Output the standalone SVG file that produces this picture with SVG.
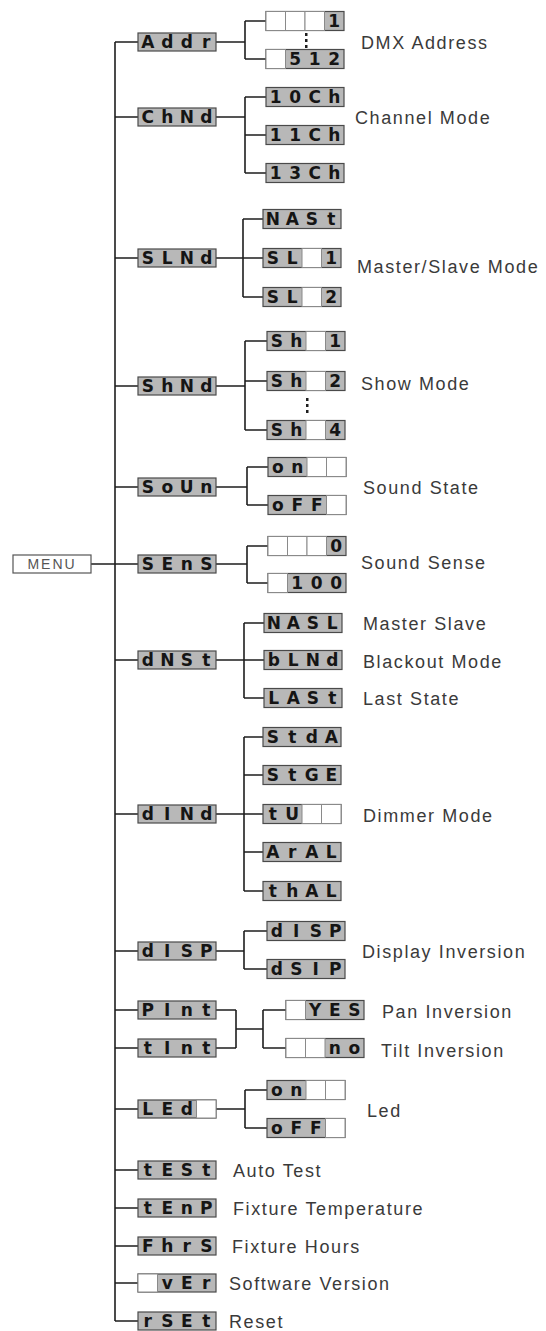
<svg xmlns="http://www.w3.org/2000/svg" width="546" height="1331" viewBox="0 0 546 1331">
<style>
.ln{stroke:#1e1e1e;stroke-width:1.6;fill:none}
.lcd{fill:#b8b8b8;stroke:#4a4a4a;stroke-width:1.2}
.blank{fill:#fff;stroke:#8a8a8a;stroke-width:1}
.seg{font-family:"DejaVu Sans",sans-serif;font-weight:bold;font-size:17px;fill:#151515;text-anchor:middle}
.lbl{font-family:"Liberation Sans",Arial,sans-serif;font-size:18px;fill:#3a3a3a;letter-spacing:1.6px}
.menu{font-family:"Liberation Sans",Arial,sans-serif;font-size:14px;fill:#555;letter-spacing:2px;text-anchor:middle}
.dot{fill:#1e1e1e}
</style>
<rect width="546" height="1331" fill="#fff"/>
<g id="connectors">
<path class="ln" d="M91 564H138M115 42V1321"/>
<path class="ln" d="M115 42H138M115 117H138M115 258H138M115 386H138M115 487H138M115 660H138M115 814H138M115 951H138M115 1010H138M115 1048H138M115 1109H138M115 1170H138M115 1208H138M115 1246H138M115 1283H138M115 1321H138"/>
<path class="ln" d="M216 42H245M245 21V59M245 21H266M245 59H266"/>
<path class="ln" d="M216 117H245M245 97V173M245 97H266M245 135H266M245 173H266"/>
<path class="ln" d="M216 258H243M243 219V297M243 219H263M243 258H263M243 297H263"/>
<path class="ln" d="M216 386H245M245 341V430M245 341H267M245 381H267M245 430H267"/>
<path class="ln" d="M216 487H247M247 467V505M247 467H268M247 505H268"/>
<path class="ln" d="M216 564H247M247 546V583M247 546H268M247 583H268"/>
<path class="ln" d="M216 660H244M244 623V698M244 623H264M244 660H264M244 698H264"/>
<path class="ln" d="M216 814H244M244 737V891M244 737H263M244 775H263M244 814H263M244 852H263M244 891H263"/>
<path class="ln" d="M216 951H244M244 931V969M244 931H267M244 969H267"/>
<path class="ln" d="M216 1010H236M216 1048H236M236 1010V1048M236 1029H263M263 1010V1048M263 1010H286M263 1048H286"/>
<path class="ln" d="M216 1109H245M245 1090V1128M245 1090H267M245 1128H267"/>
<g class="dot"><rect x="305" y="33" width="2.5" height="3"/><rect x="305" y="39" width="2.5" height="3"/><rect x="305" y="45" width="2.5" height="3"/><rect x="306" y="398" width="2.5" height="3"/><rect x="306" y="404" width="2.5" height="3"/><rect x="306" y="410" width="2.5" height="3"/></g>
</g>
<g id="menu"><rect x="13" y="555" width="78" height="18" fill="#fff" stroke="#555" stroke-width="1.2"/><text class="menu" x="52" y="569">MENU</text></g>

<g id="addr"><rect class="lcd" x="138" y="33" width="78" height="18"/><text class="seg" x="147.75 167.25 186.75 206.25" y="48">Addr</text></g>
<g id="addr-1"><rect class="lcd" x="266" y="11.5" width="78" height="19"/><rect class="blank" x="266" y="11.5" width="19.5" height="19"/><rect class="blank" x="285.5" y="11.5" width="19.5" height="19"/><rect class="blank" x="305" y="11.5" width="19.5" height="19"/><text class="seg" x="334.25" y="27">1</text></g>
<g id="addr-512"><rect class="lcd" x="266" y="49.5" width="78" height="19"/><rect class="blank" x="266" y="49.5" width="19.5" height="19"/><text class="seg" x="295.25 314.75 334.25" y="65">512</text></g>
<text class="lbl" x="361" y="48.5">DMX Address</text>

<g id="chnd"><rect class="lcd" x="138" y="108" width="78" height="18"/><text class="seg" x="147.75 167.25 186.75 206.25" y="123">ChNd</text></g>
<g id="ch10"><rect class="lcd" x="266" y="87.5" width="78" height="19"/><text class="seg" x="275.75 295.25 314.75 334.25" y="103">10Ch</text></g>
<g id="ch11"><rect class="lcd" x="266" y="125.5" width="78" height="19"/><text class="seg" x="275.75 295.25 314.75 334.25" y="141">11Ch</text></g>
<g id="ch13"><rect class="lcd" x="266" y="163.5" width="78" height="19"/><text class="seg" x="275.75 295.25 314.75 334.25" y="179">13Ch</text></g>
<text class="lbl" x="355" y="123.5">Channel Mode</text>

<g id="slnd"><rect class="lcd" x="138" y="249" width="78" height="18"/><text class="seg" x="147.75 167.25 186.75 206.25" y="264">SLNd</text></g>
<g id="mast"><rect class="lcd" x="263" y="209.5" width="78" height="19"/><text class="seg" x="272.75 292.25 311.75 331.25" y="225">NASt</text></g>
<g id="sl1"><rect class="lcd" x="263" y="248.5" width="78" height="19"/><rect class="blank" x="302" y="248.5" width="19.5" height="19"/><text class="seg" x="272.75 292.25 331.25" y="264">SL1</text></g>
<g id="sl2"><rect class="lcd" x="263" y="287.5" width="78" height="19"/><rect class="blank" x="302" y="287.5" width="19.5" height="19"/><text class="seg" x="272.75 292.25 331.25" y="303">SL2</text></g>
<text class="lbl" x="357" y="272.5">Master/Slave Mode</text>

<g id="shnd"><rect class="lcd" x="138" y="377" width="78" height="18"/><text class="seg" x="147.75 167.25 186.75 206.25" y="392">ShNd</text></g>
<g id="sh1"><rect class="lcd" x="267" y="331.5" width="78" height="19"/><rect class="blank" x="306" y="331.5" width="19.5" height="19"/><text class="seg" x="276.75 296.25 335.25" y="347">Sh1</text></g>
<g id="sh2"><rect class="lcd" x="267" y="371.5" width="78" height="19"/><rect class="blank" x="306" y="371.5" width="19.5" height="19"/><text class="seg" x="276.75 296.25 335.25" y="387">Sh2</text></g>
<g id="sh4"><rect class="lcd" x="267" y="420.5" width="78" height="19"/><rect class="blank" x="306" y="420.5" width="19.5" height="19"/><text class="seg" x="276.75 296.25 335.25" y="436">Sh4</text></g>
<text class="lbl" x="361" y="389.5">Show Mode</text>

<g id="soun"><rect class="lcd" x="138" y="478" width="78" height="18"/><text class="seg" x="147.75 167.25 186.75 206.25" y="493">SoUn</text></g>
<g id="snd-on"><rect class="lcd" x="268" y="457.5" width="78" height="19"/><rect class="blank" x="307" y="457.5" width="19.5" height="19"/><rect class="blank" x="326.5" y="457.5" width="19.5" height="19"/><text class="seg" x="277.75 297.25" y="473">on</text></g>
<g id="snd-off"><rect class="lcd" x="268" y="495.5" width="78" height="19"/><rect class="blank" x="326.5" y="495.5" width="19.5" height="19"/><text class="seg" x="277.75 297.25 316.75" y="511">oFF</text></g>
<text class="lbl" x="363" y="493.5">Sound State</text>

<g id="sens"><rect class="lcd" x="138" y="555" width="78" height="18"/><text class="seg" x="147.75 167.25 186.75 206.25" y="570">SEnS</text></g>
<g id="sens-0"><rect class="lcd" x="268" y="536.5" width="78" height="19"/><rect class="blank" x="268" y="536.5" width="19.5" height="19"/><rect class="blank" x="287.5" y="536.5" width="19.5" height="19"/><rect class="blank" x="307" y="536.5" width="19.5" height="19"/><text class="seg" x="336.25" y="552">0</text></g>
<g id="sens-100"><rect class="lcd" x="268" y="573.5" width="78" height="19"/><rect class="blank" x="268" y="573.5" width="19.5" height="19"/><text class="seg" x="297.25 316.75 336.25" y="589">100</text></g>
<text class="lbl" x="361" y="568.5">Sound Sense</text>

<g id="dnst"><rect class="lcd" x="138" y="651" width="78" height="18"/><text class="seg" x="147.75 167.25 186.75 206.25" y="666">dNSt</text></g>
<g id="masl"><rect class="lcd" x="264" y="613.5" width="78" height="19"/><text class="seg" x="273.75 293.25 312.75 332.25" y="629">NASL</text></g>
<g id="blnd"><rect class="lcd" x="264" y="650.5" width="78" height="19"/><text class="seg" x="273.75 293.25 312.75 332.25" y="666">bLNd</text></g>
<g id="last"><rect class="lcd" x="264" y="688.5" width="78" height="19"/><text class="seg" x="273.75 293.25 312.75 332.25" y="704">LASt</text></g>
<text class="lbl" x="363" y="629.5">Master Slave</text>
<text class="lbl" x="363" y="667.5">Blackout Mode</text>
<text class="lbl" x="363" y="704.5">Last State</text>

<g id="dind"><rect class="lcd" x="138" y="805" width="78" height="18"/><text class="seg" x="147.75 167.25 186.75 206.25" y="820">dINd</text></g>
<g id="stda"><rect class="lcd" x="263" y="727.5" width="78" height="19"/><text class="seg" x="272.75 292.25 311.75 331.25" y="743">StdA</text></g>
<g id="stge"><rect class="lcd" x="263" y="765.5" width="78" height="19"/><text class="seg" x="272.75 292.25 311.75 331.25" y="781">StGE</text></g>
<g id="tu"><rect class="lcd" x="263" y="804.5" width="78" height="19"/><rect class="blank" x="302" y="804.5" width="19.5" height="19"/><rect class="blank" x="321.5" y="804.5" width="19.5" height="19"/><text class="seg" x="272.75 292.25" y="820">tU</text></g>
<g id="aral"><rect class="lcd" x="263" y="842.5" width="78" height="19"/><text class="seg" x="272.75 292.25 311.75 331.25" y="858">ArAL</text></g>
<g id="thal"><rect class="lcd" x="263" y="881.5" width="78" height="19"/><text class="seg" x="272.75 292.25 311.75 331.25" y="897">thAL</text></g>
<text class="lbl" x="363" y="821.5">Dimmer Mode</text>

<g id="disp"><rect class="lcd" x="138" y="942" width="78" height="18"/><text class="seg" x="147.75 167.25 186.75 206.25" y="957">dISP</text></g>
<g id="disp-1"><rect class="lcd" x="267" y="921.5" width="78" height="19"/><text class="seg" x="276.75 296.25 315.75 335.25" y="937">dISP</text></g>
<g id="disp-2"><rect class="lcd" x="267" y="959.5" width="78" height="19"/><text class="seg" x="276.75 296.25 315.75 335.25" y="975">dSIP</text></g>
<text class="lbl" x="362" y="957.5">Display Inversion</text>

<g id="pint"><rect class="lcd" x="138" y="1001" width="78" height="18"/><text class="seg" x="147.75 167.25 186.75 206.25" y="1016">PInt</text></g>
<g id="tint"><rect class="lcd" x="138" y="1039" width="78" height="18"/><text class="seg" x="147.75 167.25 186.75 206.25" y="1054">tInt</text></g>
<g id="yes"><rect class="lcd" x="286" y="1000.5" width="78" height="19"/><rect class="blank" x="286" y="1000.5" width="19.5" height="19"/><text class="seg" x="315.25 334.75 354.25" y="1016">YES</text></g>
<g id="no"><rect class="lcd" x="286" y="1038.5" width="78" height="19"/><rect class="blank" x="286" y="1038.5" width="19.5" height="19"/><rect class="blank" x="305.5" y="1038.5" width="19.5" height="19"/><text class="seg" x="334.75 354.25" y="1054">no</text></g>
<text class="lbl" x="382" y="1017.5">Pan Inversion</text>
<text class="lbl" x="381" y="1056.5">Tilt Inversion</text>

<g id="led"><rect class="lcd" x="138" y="1100" width="78" height="18"/><rect class="blank" x="196.5" y="1100" width="19.5" height="18"/><text class="seg" x="147.75 167.25 186.75" y="1115">LEd</text></g>
<g id="led-on"><rect class="lcd" x="267" y="1080.5" width="78" height="19"/><rect class="blank" x="306" y="1080.5" width="19.5" height="19"/><rect class="blank" x="325.5" y="1080.5" width="19.5" height="19"/><text class="seg" x="276.75 296.25" y="1096">on</text></g>
<g id="led-off"><rect class="lcd" x="267" y="1118.5" width="78" height="19"/><rect class="blank" x="325.5" y="1118.5" width="19.5" height="19"/><text class="seg" x="276.75 296.25 315.75" y="1134">oFF</text></g>
<text class="lbl" x="367" y="1116.5">Led</text>

<g id="test"><rect class="lcd" x="138" y="1161" width="78" height="18"/><text class="seg" x="147.75 167.25 186.75 206.25" y="1176">tESt</text></g>
<text class="lbl" x="233" y="1176.5">Auto Test</text>
<g id="temp"><rect class="lcd" x="138" y="1199" width="78" height="18"/><text class="seg" x="147.75 167.25 186.75 206.25" y="1214">tEnP</text></g>
<text class="lbl" x="233" y="1214.5">Fixture Temperature</text>
<g id="fhrs"><rect class="lcd" x="138" y="1237" width="78" height="18"/><text class="seg" x="147.75 167.25 186.75 206.25" y="1252">FhrS</text></g>
<text class="lbl" x="232" y="1252.5">Fixture Hours</text>
<g id="ver"><rect class="lcd" x="138" y="1274" width="78" height="18"/><rect class="blank" x="138" y="1274" width="19.5" height="18"/><text class="seg" x="167.25 186.75 206.25" y="1289">vEr</text></g>
<text class="lbl" x="229" y="1289.5">Software Version</text>
<g id="rset"><rect class="lcd" x="138" y="1312" width="78" height="18"/><text class="seg" x="147.75 167.25 186.75 206.25" y="1327">rSEt</text></g>
<text class="lbl" x="229" y="1327.5">Reset</text>
</svg>
